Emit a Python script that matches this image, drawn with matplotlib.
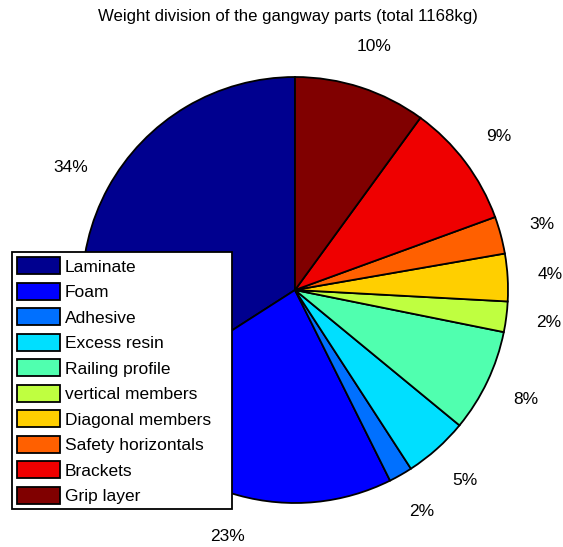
import matplotlib
matplotlib.use("Agg")
import matplotlib.pyplot as plt

plt.rcParams['font.family'] = ['Liberation Sans', 'DejaVu Sans']

parts = ["Laminate", "Foam", "Adhesive", "Excess resin", "Railing profile",
         "vertical members", "Diagonal members", "Safety horizontals",
         "Brackets", "Grip layer"]
weights_kg = [398, 272, 21, 57, 91, 27, 42, 33, 110, 117]
colors = ["#00008F", "#0000FF", "#0070FF", "#00DFFF", "#50FFAF",
          "#BFFF40", "#FFCF00", "#FF6000", "#EF0000", "#800000"]
title = "Weight division of the gangway parts (total 1168kg)"

W, H = 563, 547
FS = 12.5
fig = plt.figure(figsize=(W / 100, H / 100), dpi=100)
ax = fig.add_axes([0, 0, 1, 1])

wedges, texts, autotexts = ax.pie(
    weights_kg, colors=colors, startangle=90, counterclock=True,
    center=(295, H - 290), radius=213,
    autopct=lambda p: f"{p:.0f}%", pctdistance=1.2,
    wedgeprops=dict(edgecolor="black", linewidth=1.3),
    textprops=dict(fontsize=FS, color="black"))
for t in autotexts:
    t.set_ha("center")
    t.set_va("center")

ax.set_xlim(0, W)
ax.set_ylim(0, H)
ax.set_aspect("equal")
ax.axis("off")

fig.text(288 / W, 1 - 17 / H, title, ha="center", va="center", fontsize=12.1)

leg = fig.legend(wedges, parts, loc="upper left",
                 bbox_to_anchor=(12 / W, 1 - 510 / H, 220 / W, 258 / H),
                 mode="expand",
                 fontsize=FS, fancybox=False, framealpha=1,
                 edgecolor="black", handlelength=2.45, handleheight=1.15,
                 handletextpad=0.3, labelspacing=0.46, borderpad=0.3,
                 borderaxespad=0)
leg.get_frame().set_linewidth(1.3)

fig.savefig("out.png", dpi=100)
